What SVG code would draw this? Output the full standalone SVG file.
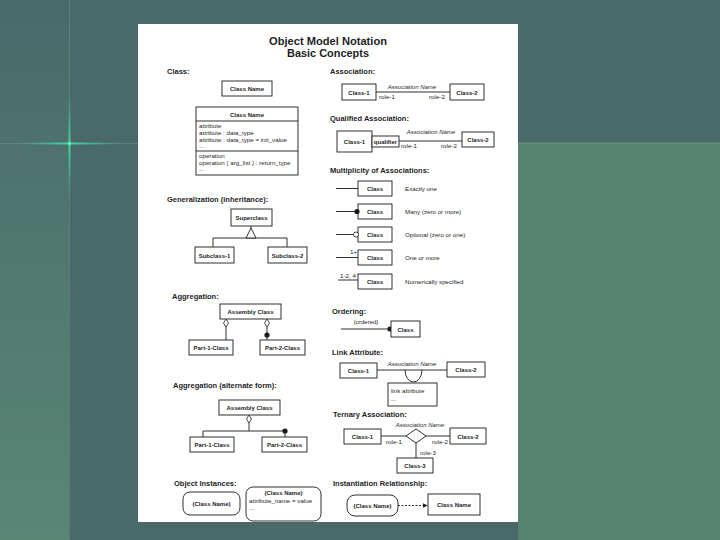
<svg xmlns="http://www.w3.org/2000/svg" width="720" height="540" viewBox="0 0 720 540">
<defs>
<linearGradient id="lg" x1="0" y1="0" x2="0" y2="1"><stop offset="0" stop-color="#4a6a69"/><stop offset="1" stop-color="#5a8676"/></linearGradient>
<linearGradient id="sv" x1="0" y1="0" x2="0" y2="1"><stop offset="0" stop-color="#2fd9a0" stop-opacity="0"/><stop offset="0.5" stop-color="#3fe8b0"/><stop offset="1" stop-color="#2fd9a0" stop-opacity="0"/></linearGradient>
<linearGradient id="sh" x1="0" y1="0" x2="1" y2="0"><stop offset="0" stop-color="#2fd9a0" stop-opacity="0"/><stop offset="0.5" stop-color="#3fe8b0"/><stop offset="1" stop-color="#2fd9a0" stop-opacity="0"/></linearGradient>
<marker id="ah" viewBox="0 0 8 8" refX="7" refY="4" markerWidth="5" markerHeight="5" orient="auto"><path d="M0,0 L8,4 L0,8 z" fill="#1a1a1a"/></marker>
<style>
text{font-family:"Liberation Sans",Arial,sans-serif;fill:#1e1e1e}
.t{font-size:11.5px;font-weight:bold;text-anchor:middle}
.h{font-size:7.5px;font-weight:bold}
.b{font-size:6px;font-weight:bold;text-anchor:middle}
.s{font-size:6.2px}
.sm{font-size:6px;text-anchor:middle}
.i{font-size:6px;font-style:italic;text-anchor:middle}
.bx{fill:#fff;stroke:#1a1a1a;stroke-width:0.9}
.ln{fill:none;stroke:#1a1a1a;stroke-width:0.9}
.dot{fill:#1a1a1a}
</style>
</defs>
<g id="background">
<rect x="0" y="0" width="720" height="540" fill="#4a6a69"/>
<rect x="0" y="0" width="69" height="540" fill="url(#lg)"/>
<rect x="518" y="142" width="202" height="398" fill="#578272"/>
<line x1="69.5" y1="0" x2="69.5" y2="540" stroke="#6a8e88" stroke-width="1" opacity="0.6"/>
<line x1="0" y1="143.5" x2="720" y2="143.5" stroke="#6a9088" stroke-width="1" opacity="0.6"/>
<rect x="68.5" y="95" width="2" height="100" fill="url(#sv)" opacity="0.85"/>
<rect x="20" y="142.5" width="100" height="2" fill="url(#sh)" opacity="0.85"/>
<circle cx="69.5" cy="143.5" r="1.6" fill="#6ff0c0"/>
</g>
<rect id="page" x="138" y="24" width="380" height="498" fill="#ffffff"/>
<g id="title">
<text class="t" x="328" y="44.5" textLength="118" lengthAdjust="spacingAndGlyphs">Object Model Notation</text>
<text class="t" x="328" y="57" textLength="82" lengthAdjust="spacingAndGlyphs">Basic Concepts</text>
</g>
<g id="headings">
<text class="h" x="167" y="74">Class:</text>
<text class="h" x="167" y="202">Generalization (inheritance):</text>
<text class="h" x="172" y="299">Aggregation:</text>
<text class="h" x="173" y="388">Aggregation (alternate form):</text>
<text class="h" x="174" y="486">Object Instances:</text>
<text class="h" x="330" y="74">Association:</text>
<text class="h" x="330" y="121">Qualified Association:</text>
<text class="h" x="330" y="173">Multiplicity of Associations:</text>
<text class="h" x="332" y="314">Ordering:</text>
<text class="h" x="332" y="355">Link Attribute:</text>
<text class="h" x="333" y="417">Ternary Association:</text>
<text class="h" x="333" y="486">Instantiation Relationship:</text>
</g>
<g id="connectors">
<line class="ln" x1="376" y1="92" x2="450" y2="92"/>
<line class="ln" x1="399" y1="141" x2="462" y2="141"/>
<line class="ln" x1="336" y1="188.5" x2="358" y2="188.5"/>
<line class="ln" x1="336" y1="211.5" x2="358" y2="211.5"/>
<line class="ln" x1="336" y1="234.5" x2="353.5" y2="234.5"/>
<line class="ln" x1="336" y1="257.5" x2="358" y2="257.5"/>
<line class="ln" x1="338" y1="280" x2="358" y2="280"/>
<line class="ln" x1="341" y1="329" x2="389" y2="329"/>
<line class="ln" x1="377" y1="370" x2="447" y2="370"/>
<path class="ln" d="M405,370 A8.5,12 0 0 0 422,370"/>
<line class="ln" x1="381" y1="436" x2="406" y2="436"/>
<line class="ln" x1="426" y1="436" x2="450" y2="436"/>
<line class="ln" x1="416" y1="443" x2="416" y2="458"/>
<line class="ln" x1="398" y1="505.5" x2="427" y2="505.5" stroke-dasharray="2,1.5" marker-end="url(#ah)"/>
<line class="ln" x1="251" y1="226" x2="251" y2="228"/>
<line class="ln" x1="213" y1="238" x2="287" y2="238"/>
<line class="ln" x1="213" y1="238" x2="213" y2="247"/>
<line class="ln" x1="287" y1="238" x2="287" y2="247"/>
<line class="ln" x1="226" y1="327" x2="226" y2="340" stroke-width="1.6"/>
<line class="ln" x1="267" y1="327" x2="267" y2="340" stroke-width="1.4"/>
<line class="ln" x1="249" y1="423" x2="249" y2="431"/>
<line class="ln" x1="203" y1="431" x2="285" y2="431"/>
<line class="ln" x1="203" y1="431" x2="203" y2="437"/>
<line class="ln" x1="285" y1="431" x2="285" y2="437"/>
</g>
<g id="class-simple"><rect class="bx" x="222" y="81" width="50" height="15"/><text class="b" x="247" y="91">Class Name</text></g>
<g id="class-full">
<rect class="bx" x="196" y="107" width="102" height="68"/>
<line class="ln" x1="196" y1="121" x2="298" y2="121"/>
<line class="ln" x1="196" y1="151" x2="298" y2="151"/>
<text class="b" x="247" y="117">Class Name</text>
<text class="s" x="199" y="128">attribute</text>
<text class="s" x="199" y="135">attribute : data_type</text>
<text class="s" x="199" y="142">attribute : data_type = init_value</text>
<text class="s" x="199" y="148">...</text>
<text class="s" x="199" y="158">operation</text>
<text class="s" x="199" y="165">operation ( arg_list ) : return_type</text>
<text class="s" x="199" y="171">...</text>
</g>
<g id="superclass"><rect class="bx" x="231" y="209" width="41" height="17"/><text class="b" x="251.5" y="220">Superclass</text>
<polygon points="251,228 246,238 256,238" fill="#fff" stroke="#1a1a1a" stroke-width="0.9"/></g>
<g id="subclass-1"><rect class="bx" x="195" y="247" width="39" height="16"/><text class="b" x="214.5" y="257.5">Subclass-1</text></g>
<g id="subclass-2"><rect class="bx" x="268" y="247" width="39" height="16"/><text class="b" x="287.5" y="257.5">Subclass-2</text></g>
<g id="assembly-1"><rect class="bx" x="220" y="304" width="61" height="15"/><text class="b" x="250.5" y="314">Assembly Class</text>
<polygon points="226,319 228.5,323 226,327 223.5,323" fill="#fff" stroke="#1a1a1a" stroke-width="0.8"/>
<polygon points="267,319 269.5,323 267,327 264.5,323" fill="#fff" stroke="#1a1a1a" stroke-width="0.8"/>
<circle class="dot" cx="267" cy="335" r="2.6"/></g>
<g id="part1-a"><rect class="bx" x="189" y="340" width="44" height="15"/><text class="b" x="211" y="350">Part-1-Class</text></g>
<g id="part2-a"><rect class="bx" x="260" y="340" width="45" height="15"/><text class="b" x="282.5" y="350">Part-2-Class</text></g>
<g id="assembly-2"><rect class="bx" x="219" y="400" width="61" height="15"/><text class="b" x="249.5" y="410">Assembly Class</text>
<polygon points="249,415 251.5,419 249,423 246.5,419" fill="#fff" stroke="#1a1a1a" stroke-width="0.8"/>
<circle class="dot" cx="285" cy="431" r="2.6"/></g>
<g id="part1-b"><rect class="bx" x="190" y="437" width="44" height="15"/><text class="b" x="212" y="447">Part-1-Class</text></g>
<g id="part2-b"><rect class="bx" x="262" y="437" width="45" height="15"/><text class="b" x="284.5" y="447">Part-2-Class</text></g>
<g id="instance-1"><rect class="bx" x="183" y="492" width="57" height="23" rx="7"/><text class="b" x="211.5" y="506">(Class Name)</text></g>
<g id="instance-2"><rect class="bx" x="246" y="487" width="75" height="34" rx="7"/><text class="b" x="283.5" y="495">(Class Name)</text>
<text class="s" x="249" y="503">attribute_name = value</text><text class="s" x="249" y="510">...</text></g>
<g id="assoc-class1"><rect class="bx" x="342" y="84" width="34" height="16"/><text class="b" x="359" y="94.5">Class-1</text></g>
<g id="assoc-class2"><rect class="bx" x="450" y="84" width="34" height="16"/><text class="b" x="467" y="94.5">Class-2</text></g>
<g id="assoc-labels"><text class="i" x="412" y="89">Association Name</text><text class="s" x="379" y="99">role-1</text><text class="s" x="429" y="99">role-2</text></g>
<g id="qual-class1"><rect class="bx" x="337" y="131" width="35" height="21"/><text class="b" x="354.5" y="144">Class-1</text></g>
<g id="qualifier"><rect class="bx" x="372" y="136" width="27" height="11"/><text class="b" x="385.5" y="143.5">qualifier</text></g>
<g id="qual-class2"><rect class="bx" x="462" y="132" width="32" height="15"/><text class="b" x="478" y="142">Class-2</text></g>
<g id="qual-labels"><text class="i" x="431" y="134">Association Name</text><text class="s" x="401" y="148">role-1</text><text class="s" x="441" y="148">role-2</text></g>
<g id="mult-1"><rect class="bx" x="358" y="181" width="34" height="15"/><text class="b" x="375" y="190.5">Class</text><text class="s" x="405" y="190.5">Exactly one</text></g>
<g id="mult-2"><rect class="bx" x="358" y="204" width="34" height="15"/><text class="b" x="375" y="213.5">Class</text><circle class="dot" cx="357" cy="211.5" r="2.6"/><text class="s" x="405" y="213.5">Many (zero or more)</text></g>
<g id="mult-3"><rect class="bx" x="358" y="227" width="34" height="15"/><text class="b" x="375" y="236.5">Class</text><circle cx="356" cy="234.5" r="2.5" fill="#fff" stroke="#1a1a1a" stroke-width="0.8"/><text class="s" x="405" y="236.5">Optional (zero or one)</text></g>
<g id="mult-4"><rect class="bx" x="358" y="250" width="34" height="15"/><text class="b" x="375" y="259.5">Class</text><text class="s" x="350" y="254">1+</text><text class="s" x="405" y="259.5">One or more</text></g>
<g id="mult-5"><rect class="bx" x="358" y="274" width="34" height="15"/><text class="b" x="375" y="283.5">Class</text><text class="s" x="340" y="278">1-2, 4</text><text class="s" x="405" y="283.5">Numerically specified</text></g>
<g id="ordering"><text class="sm" x="366" y="324">{ordered}</text><circle class="dot" cx="390" cy="329" r="2.6"/><rect class="bx" x="391" y="321" width="29" height="16"/><text class="b" x="405.5" y="331.5">Class</text></g>
<g id="link-class1"><rect class="bx" x="340" y="363" width="37" height="15"/><text class="b" x="358.5" y="372.5">Class-1</text></g>
<g id="link-class2"><rect class="bx" x="447" y="362" width="38" height="15"/><text class="b" x="466" y="371.5">Class-2</text></g>
<g id="link-attr"><text class="i" x="412" y="366">Association Name</text><rect class="bx" x="388" y="383" width="49" height="23"/><text class="s" x="391" y="393">link attribute</text><text class="s" x="391" y="401">...</text></g>
<g id="tern-class1"><rect class="bx" x="344" y="429" width="37" height="15" stroke="#888"/><text class="b" x="362.5" y="438.5">Class-1</text></g>
<g id="tern-diamond"><polygon points="406,436 416,429 426,436 416,443" fill="#fff" stroke="#1a1a1a" stroke-width="0.9"/><text class="i" x="420" y="427">Association Name</text>
<text class="s" x="386" y="444">role-1</text><text class="s" x="432" y="444">role-2</text><text class="s" x="420" y="455">role-3</text></g>
<g id="tern-class2"><rect class="bx" x="450" y="428" width="36" height="16"/><text class="b" x="468" y="438.5">Class-2</text></g>
<g id="tern-class3"><rect class="bx" x="397" y="458" width="36" height="15"/><text class="b" x="415" y="467.5">Class-3</text></g>
<g id="inst-object"><rect class="bx" x="347" y="495" width="51" height="21" rx="8"/><text class="b" x="372.5" y="508">(Class Name)</text></g>
<g id="inst-class"><rect class="bx" x="428" y="494" width="52" height="21"/><text class="b" x="454" y="507">Class Name</text></g>
</svg>
